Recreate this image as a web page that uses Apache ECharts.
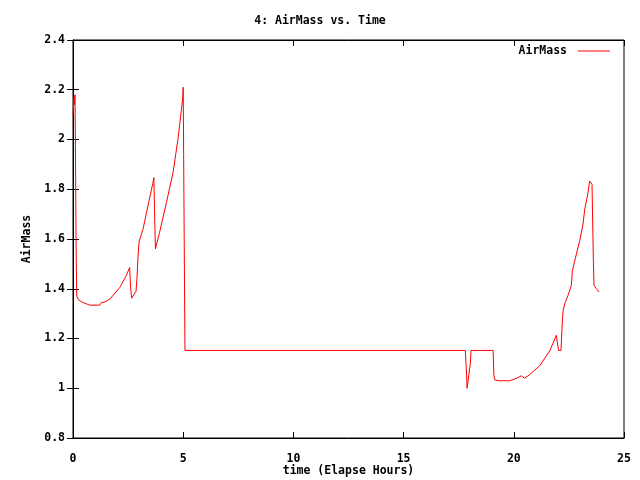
<!DOCTYPE html>
<html>
<head>
<meta charset="utf-8">
<script src="https://cdn.jsdelivr.net/npm/echarts@6/dist/echarts.min.js"></script>
<style>html,body{margin:0;padding:0;background:#fff}#c{width:640px;height:480px}</style>
</head>
<body>
<div id="c"></div>
<script>
const titleText = "4: AirMass vs. Time";
const seriesName = "AirMass";
const xName = "time (Elapse Hours)";
const yName = "AirMass";
const hours = [0.00,0.045,0.07,0.09,0.11,0.14,0.17,0.25,0.45,0.76,1.21,1.29,1.40,1.67,2.12,2.40,2.57,2.61,2.66,2.86,2.90,2.95,3.00,3.18,3.40,3.63,3.67,3.70,3.74,3.93,4.24,4.54,4.76,4.92,4.98,5.00,5.02,5.06,5.08,17.80,17.86,17.88,17.97,18.03,18.06,19.06,19.10,19.15,19.33,19.81,20.12,20.34,20.49,20.72,21.17,21.63,21.93,22.00,22.03,22.14,22.17,22.21,22.23,22.31,22.46,22.61,22.66,22.84,22.99,23.14,23.22,23.37,23.44,23.49,23.55,23.57,23.61,23.64,23.75,23.87];
const airmass = [2.10,2.17,2.14,2.18,1.98,1.57,1.37,1.355,1.345,1.334,1.334,1.345,1.345,1.358,1.405,1.45,1.485,1.41,1.362,1.39,1.44,1.53,1.59,1.64,1.733,1.827,1.847,1.71,1.56,1.627,1.747,1.867,2.00,2.12,2.17,2.21,1.94,1.41,1.152,1.152,1.05,1.0,1.0,1.1,1.152,1.152,1.05,1.033,1.03,1.03,1.04,1.05,1.04,1.055,1.09,1.15,1.213,1.17,1.152,1.152,1.21,1.28,1.307,1.34,1.373,1.413,1.473,1.54,1.593,1.66,1.72,1.787,1.833,1.84,1.82,1.713,1.513,1.413,1.40,1.387];
const xMin = 0, xMax = 25, xStep = 5;
const yMin = 0.8, yMax = 2.4, yStep = 0.2;

const font = 'DejaVu Sans Mono';
const txt = {fontFamily: font, fontSize: 11.5, fontWeight: 'bold', color: '#000'};
const chart = echarts.init(document.getElementById('c'), null, {renderer: 'canvas'});
const axisLineStyle = {show: true, lineStyle: {color: '#000', width: 1}};
const tick = {show: true, inside: true, length: 6, lineStyle: {color: '#000'}};
chart.setOption({
  animation: false,
  backgroundColor: '#fff',
  title: {text: titleText, left: 'center', top: 10, textStyle: Object.assign({}, txt)},
  legend: {
    data: [{name: seriesName, icon: 'rect'}],
    right: 25, top: 40, align: 'right', itemWidth: 32, itemHeight: 1, itemGap: 0,
    textStyle: Object.assign({}, txt, {padding: [0, 6, 0, 0]})
  },
  grid: {left: 73, right: 16, top: 40, bottom: 42, show: true, borderColor: '#000', borderWidth: 1, outerBoundsMode: 'none', containLabel: false},
  xAxis: [{
    type: 'value', min: xMin, max: xMax, interval: xStep, position: 'bottom',
    name: xName, nameLocation: 'middle', nameGap: 27, nameMoveOverlap: false, nameTextStyle: Object.assign({}, txt),
    axisLine: axisLineStyle, axisTick: tick, splitLine: {show: false},
    axisLabel: Object.assign({margin: 15}, txt)
  }, {
    type: 'value', min: xMin, max: xMax, interval: xStep, position: 'top',
    axisLine: axisLineStyle, axisTick: tick, splitLine: {show: false}, axisLabel: {show: false}
  }],
  yAxis: [{
    type: 'value', min: yMin, max: yMax, interval: yStep, position: 'left',
    name: yName, nameLocation: 'middle', nameGap: 40, nameMoveOverlap: false, nameRotate: 90, nameTextStyle: Object.assign({}, txt),
    axisLine: axisLineStyle, axisTick: tick, splitLine: {show: false},
    axisLabel: Object.assign({margin: 8, formatter: v => (Math.round(v*10)/10).toString()}, txt)
  }, {
    type: 'value', min: yMin, max: yMax, interval: yStep, position: 'right',
    axisLine: axisLineStyle, axisTick: tick, splitLine: {show: false}, axisLabel: {show: false}
  }],
  series: [{
    name: seriesName, type: 'line', showSymbol: false, symbol: 'none',
    data: hours.map((h, i) => [h, airmass[i]]),
    lineStyle: {color: '#ff0000', width: 1}, itemStyle: {color: '#ff0000'}
  }]
});
</script>
</body>
</html>
